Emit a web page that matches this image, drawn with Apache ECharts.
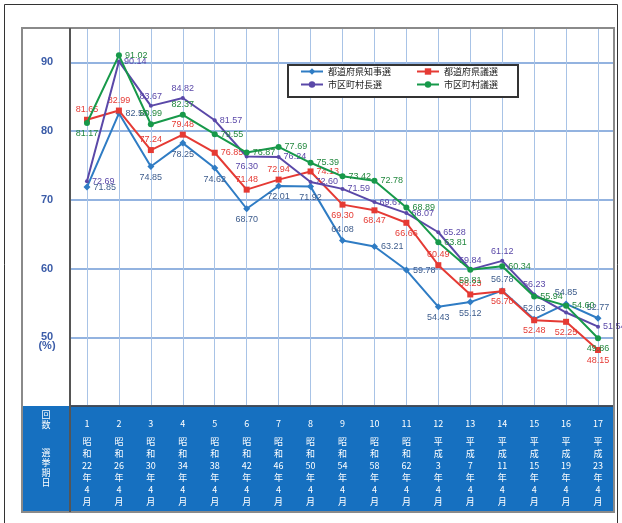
<!DOCTYPE html>
<html>
<head>
<meta charset="utf-8">
<script src="https://cdn.jsdelivr.net/npm/echarts@6.0.0/dist/echarts.min.js"></script>
<style>
html,body{margin:0;padding:0;background:#fff;}
#chart{width:622px;height:523px;}
</style>
</head>
<body>
<div id="chart"></div>
<script>
// ---- data ----
const rounds = ['1','2','3','4','5','6','7','8','9','10','11','12','13','14','15','16','17'];
const eras = ['昭和','昭和','昭和','昭和','昭和','昭和','昭和','昭和','昭和','昭和','昭和','平成','平成','平成','平成','平成','平成'];
const years = ['22','26','30','34','38','42','46','50','54','58','62','3','7','11','15','19','23'];
const months = ['4','4','4','4','4','4','4','4','4','4','4','4','4','4','4','4','4'];
const seriesNames = ['都道府県知事選','都道府県議選','市区町村長選','市区町村議選'];
const governor = [71.85,82.58,74.85,78.25,74.62,68.70,72.01,71.92,64.08,63.21,59.78,54.43,55.12,56.78,52.63,54.85,52.77];
const prefAssembly = [81.65,82.99,77.24,79.48,76.85,71.48,72.94,74.13,69.30,68.47,66.66,60.49,56.23,56.70,52.48,52.25,48.15];
const mayor = [72.69,90.14,83.67,84.82,81.57,76.30,76.24,72.60,71.59,69.67,68.07,65.28,59.84,61.12,56.23,53.60,51.54];
const muniAssembly = [81.17,91.02,80.99,82.37,79.55,76.87,77.69,75.39,73.42,72.78,68.89,63.81,59.81,60.34,55.94,54.60,49.86];
const yTicks = [50,60,70,80,90];

// ---- label placement (layout only) ----
const posGov = ['right','right','bottom','bottom','bottom','bottom','bottom','bottom','top','right','right','bottom','bottom','top','top','top','top'];
const posPref = ['top','top','top','top','right','top','top','right','bottom','bottom','bottom','top','top','bottom','bottom','bottom','bottom'];
const posMayor = ['right','right','top','top','right','bottom','right','right','right','right','right','right','top','top','top',null,'right'];
const posMuni = ['bottom','right','top','top','right','right','right','right','right','right','right','right','bottom','right','right','right','bottom'];

const colors = ['#2f7cc4','#e53a34','#5a48a8','#17994a'];
const labelColors = ['#3d5c8c','#e53a34','#5a48a8','#23883f'];
const symbols = ['diamond','rect','circle','circle'];
const symbolSizes = [7,6,4,6];

function build(values, pos){
  return values.map((v,i)=>({
    value: v,
    label: pos[i] ? {position: pos[i]} : {show:false}
  }));
}
const allVals = [governor, prefAssembly, mayor, muniAssembly];
const allPos = [posGov, posPref, posMayor, posMuni];

const series = seriesNames.map((name,k)=>({
  name: name,
  type: 'line',
  data: build(allVals[k], allPos[k]),
  symbol: symbols[k],
  symbolSize: symbolSizes[k],
  lineStyle: {color: colors[k], width: 2},
  itemStyle: {color: colors[k]},
  label: {
    show: true,
    color: labelColors[k],
    fontSize: 9,
    fontFamily: 'Liberation Sans, Arial, sans-serif',
    distance: 3,
    formatter: p => p.value.toFixed(2)
  },
  z: 3 + k
}));

const legendCommon = {
  orient: 'horizontal',
  padding: 0,
  itemWidth: 22, itemHeight: 8,
  z: 20,
  textStyle: {fontSize: 9, color: '#222', fontFamily: 'Noto Sans CJK JP'}
};

const chart = echarts.init(document.getElementById('chart'));
chart.setOption({
  backgroundColor: '#fff',
  animation: false,
  grid: {left: 71, right: 8, top: 28, bottom: 117, containLabel: false},
  legend: [
    Object.assign({}, legendCommon, {data: [seriesNames[0], seriesNames[1]], left: 300, top: 67, itemGap: 25}),
    Object.assign({}, legendCommon, {data: [seriesNames[2], seriesNames[3]], left: 300, top: 80, itemGap: 34})
  ],
  xAxis: {
    type: 'category',
    data: rounds,
    boundaryGap: true,
    axisLine: {show: true, lineStyle: {color: '#333', width: 1.5}},
    axisTick: {show: false},
    splitLine: {show: true, alignWithLabel: true, interval: 0, lineStyle: {color: '#a8c3e6', width: 1}},
    axisLabel: {
      interval: 0,
      margin: 6,
      color: '#fff',
      formatter: (v, i) => {
        const e = eras[i];
        return '{n|' + v + '}\n{t|' + e[0] + '}\n{t|' + e[1] + '}\n{t|' + years[i] + '}\n{t|年}\n{t|' + months[i] + '}\n{t|月}';
      },
      rich: {
        n: {fontSize: 9, lineHeight: 24, color: '#fff', fontFamily: 'Noto Sans CJK JP'},
        t: {fontSize: 9, lineHeight: 12, color: '#fff', fontFamily: 'Noto Sans CJK JP'}
      }
    }
  },
  yAxis: {
    type: 'value',
    min: 40, max: 95, interval: 10,
    axisLine: {show: false},
    axisTick: {show: false},
    splitLine: {show: true, lineStyle: {color: '#6f9ad6', width: 1.5}},
    axisLabel: {
      align: 'center',
      margin: 24,
      padding: [0, 0, 9, 0],
      color: '#3b5ca8',
      fontSize: 11,
      fontWeight: 'bold',
      fontFamily: 'Liberation Sans, Arial, sans-serif',
      formatter: v => (yTicks.indexOf(v) >= 0 ? String(v) : '')
    }
  },
  graphic: [
    {type: 'rect', z: -10, shape: {x: 22, y: 406, width: 592, height: 106}, style: {fill: '#1670c0'}},
    {type: 'rect', z: 8, shape: {x: 288, y: 65, width: 230, height: 32}, style: {fill: '#fff', stroke: '#333', lineWidth: 2}},
    {type: 'rect', z: 100, shape: {x: 4.5, y: 4.5, width: 613, height: 540}, style: {fill: 'none', stroke: '#333', lineWidth: 1}},
    {type: 'rect', z: 100, shape: {x: 22, y: 28, width: 592, height: 484}, style: {fill: 'none', stroke: '#8a8a8a', lineWidth: 2}},
    {type: 'line', z: 100, shape: {x1: 70, y1: 28, x2: 70, y2: 512}, style: {stroke: '#555', lineWidth: 2}},
    {type: 'text', z: 100, x: 47, y: 346, style: {text: '(%)', fill: '#3b5ca8', fontSize: 11, fontWeight: 'bold', fontFamily: 'Liberation Sans, Arial, sans-serif', align: 'center', verticalAlign: 'middle'}},
    {type: 'text', z: 100, x: 46, y: 410, style: {text: '回\n数', fill: '#fff', fontSize: 9, lineHeight: 10, fontFamily: 'Noto Sans CJK JP', align: 'center', verticalAlign: 'top'}},
    {type: 'text', z: 100, x: 46, y: 448, style: {text: '選\n挙\n期\n日', fill: '#fff', fontSize: 9, lineHeight: 10, fontFamily: 'Noto Sans CJK JP', align: 'center', verticalAlign: 'top'}}
  ],
  series: series
});
</script>
</body>
</html>
